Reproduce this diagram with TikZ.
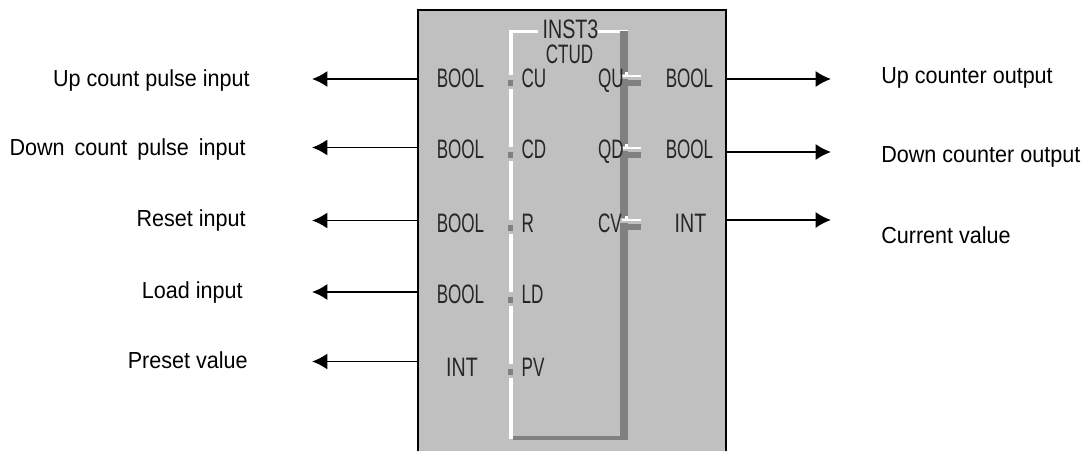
\documentclass[tikz,border=0pt]{standalone}
\usepackage{fontspec}
\setmainfont{Liberation Sans}
\usetikzlibrary{arrows.meta}
\definecolor{panel}{HTML}{C0C0C0}
\definecolor{bargrey}{HTML}{808080}
\tikzset{
  desc/.style={inner sep=0pt,font=\fontsize{17.4}{18}\selectfont,xscale=0.93,transform shape},
  pinlab/.style={inner sep=0pt,text=black!85,font=\fontsize{20}{20}\selectfont,xscale=0.64,transform shape},
  sig/.style={line width=1.25pt,-{Latex[length=11.5pt,width=12pt]}}
}
\begin{document}
\begin{tikzpicture}[x=0.75pt,y=-0.75pt]
\clip (0,0) rectangle (1089,450);
\node (fb) at (572,235) [draw,line width=1.5pt,fill=panel,minimum width=231pt,minimum height=337.5pt,inner sep=0pt] {};
\fill[white] (508.5,30) rectangle (512.5,439);
\fill[white] (508.5,30) rectangle (538,32.5);
\fill[white] (598,30) rectangle (628,32.5);
\fill[bargrey] (620,31) rectangle (628,439);
\fill[bargrey] (512.5,435.5) rectangle (628,439.5);
\foreach \y in {83,155,228,300,372} {
  \fill[panel] (508,\y-8) rectangle (513,\y+6);
  \fill[bargrey] (508,\y-3) rectangle (513,\y+3);
}
\foreach \y in {76,148,220} {
  \fill[panel] (620,\y-2) rectangle (628,\y+3);
  \fill[white] (625,\y-4) rectangle (628,\y);
  \fill[white] (622,\y-1) rectangle (641,\y+1);
  \fill[bargrey] (621,\y+4) rectangle (641,\y+10);
}
\node (inst) at (570.5,38) [pinlab,anchor=base,xscale=1.15] {INST3};
\node (ctud) at (569.5,63) [pinlab,anchor=base] {CTUD};
\node (tcu) at (460.5,87) [pinlab,anchor=base] {BOOL};
\node (tcd) at (460.5,158) [pinlab,anchor=base] {BOOL};
\node (tr) at (460.5,232) [pinlab,anchor=base] {BOOL};
\node (tld) at (460.5,303) [pinlab,anchor=base] {BOOL};
\node (tpv) at (462,376) [pinlab,anchor=base,xscale=1.15] {INT};
\node (cu) at (521.5,87) [pinlab,anchor=base west] {CU};
\node (cd) at (521.5,158) [pinlab,anchor=base west] {CD};
\node (r) at (521.5,232) [pinlab,anchor=base west] {R};
\node (ld) at (521.5,303) [pinlab,anchor=base west] {LD};
\node (pv) at (521.5,376) [pinlab,anchor=base west] {PV};
\node (qu) at (598,87) [pinlab,anchor=base west] {QU};
\node (qd) at (598,158) [pinlab,anchor=base west] {QD};
\node (cv) at (598,232) [pinlab,anchor=base west] {CV};
\node (tqu) at (689.5,87) [pinlab,anchor=base] {BOOL};
\node (tqd) at (689.5,158) [pinlab,anchor=base] {BOOL};
\node (tcv) at (690.5,232) [pinlab,anchor=base,xscale=1.15] {INT};
\node (lcu) at (250,86) [desc,anchor=base east] {Up count pulse input};
\node (lcd) at (246,155) [desc,anchor=base east] {Down \kern3.2pt count \kern3.2pt pulse \kern3.2pt input};
\node (lr) at (246,226) [desc,anchor=base east] {Reset input};
\node (lld) at (243,298) [desc,anchor=base east] {Load input};
\node (lpv) at (248,368) [desc,anchor=base east] {Preset value};
\node (lqu) at (881,83.5) [desc,anchor=base west] {Up counter output};
\node (lqd) at (881,162) [desc,anchor=base west] {Down counter output};
\node (lcv) at (881,243) [desc,anchor=base west] {Current value};
\coordinate (acu) at (312,79);
\coordinate (acd) at (312,147.5);
\coordinate (ar) at (312,220.5);
\coordinate (ald) at (312,292);
\coordinate (apv) at (312,361.5);
\coordinate (aqu) at (831,79);
\coordinate (aqd) at (831,152);
\coordinate (acv) at (831,220);
\draw[sig] (fb.west |- acu)--(acu);
\draw[sig] (fb.west |- acd)--(acd);
\draw[sig] (fb.west |- ar)--(ar);
\draw[sig] (fb.west |- ald)--(ald);
\draw[sig] (fb.west |- apv)--(apv);
\draw[sig] (fb.east |- aqu)--(aqu);
\draw[sig] (fb.east |- aqd)--(aqd);
\draw[sig] (fb.east |- acv)--(acv);
\end{tikzpicture}
\end{document}
